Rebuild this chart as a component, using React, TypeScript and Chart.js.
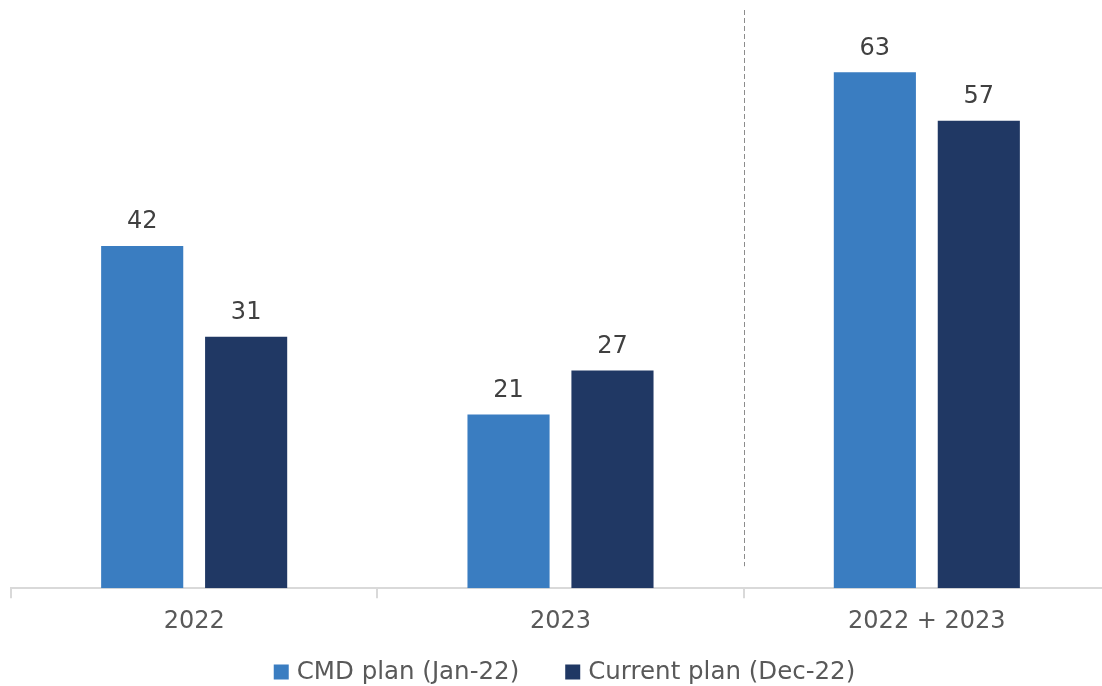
import React, { useEffect, useRef } from "react";
import { Chart, registerables } from "chart.js";

Chart.register(...registerables);

const categories = ["2022", "2023", "2022 + 2023"];
const cmdPlan = [41.8, 21.2, 63.0];
const currentPlan = [30.7, 26.6, 57.1];
const seriesNames = ["CMD plan (Jan-22)", "Current plan (Dec-22)"];
const seriesColors = ["#3A7DC1", "#203864"];
const FONT = "'DejaVu Sans', Verdana, sans-serif";

const valueLabels = {
  id: "valueLabels",
  afterDatasetsDraw(chart: any) {
    const ctx = chart.ctx;
    ctx.save();
    ctx.font = `24px ${FONT}`;
    ctx.fillStyle = "#404040";
    ctx.textAlign = "center";
    ctx.textBaseline = "middle";
    chart.data.datasets.forEach((ds: any, i: number) => {
      const meta = chart.getDatasetMeta(i);
      meta.data.forEach((bar: any, j: number) => {
        ctx.fillText(String(Math.round(ds.data[j])), bar.x, bar.y - 24);
      });
    });
    ctx.restore();
  },
};

const divider = {
  id: "divider",
  afterDraw(chart: any) {
    const { ctx, chartArea, scales } = chart;
    const x = (scales.x.getPixelForValue(1) + scales.x.getPixelForValue(2)) / 2;
    ctx.save();
    ctx.strokeStyle = "#8c8c8c";
    ctx.lineWidth = 1;
    ctx.setLineDash([5, 3]);
    ctx.beginPath();
    ctx.moveTo(Math.round(x) + 0.5, 10);
    ctx.lineTo(Math.round(x) + 0.5, chartArea.bottom - 22);
    ctx.stroke();
    ctx.restore();
  },
};

const customLegend = {
  id: "customLegend",
  afterDraw(chart: any) {
    const ctx = chart.ctx;
    ctx.save();
    ctx.font = `24.5px ${FONT}`;
    ctx.textBaseline = "middle";
    ctx.textAlign = "left";
    const box = 15;
    const textGap = 8;
    const itemGap = 46;
    const widths = chart.data.datasets.map((ds: any) => ctx.measureText(ds.label).width);
    const total = widths.reduce((s: number, w: number) => s + box + textGap + w, 0) + itemGap * (widths.length - 1);
    const cx = (chart.chartArea.left + chart.chartArea.right) / 2 + 4;
    const cy = 672;
    let x = cx - total / 2;
    chart.data.datasets.forEach((ds: any, i: number) => {
      ctx.fillStyle = seriesColors[i];
      ctx.fillRect(x, cy - box / 2, box, box);
      x += box + textGap;
      ctx.fillStyle = "#595959";
      ctx.fillText(ds.label, x, cy + 1);
      x += widths[i] + itemGap;
    });
    ctx.restore();
  },
};

export default function App() {
  const ref = useRef<HTMLCanvasElement>(null);
  useEffect(() => {
    const chart = new Chart(ref.current!, {
      type: "bar",
      data: {
        labels: categories,
        datasets: [
          { label: seriesNames[0], data: cmdPlan, backgroundColor: seriesColors[0] },
          { label: seriesNames[1], data: currentPlan, backgroundColor: seriesColors[1] },
        ],
      },
      options: {
        animation: false,
        responsive: false,
        maintainAspectRatio: false,
        categoryPercentage: 0.5675,
        barPercentage: 0.79,
        layout: { padding: { left: 11, right: 2, top: 15, bottom: 41 } },
        scales: {
          x: {
            grid: {
              drawOnChartArea: false,
              drawTicks: true,
              tickLength: 10,
              color: "#d9d9d9",
              lineWidth: 2,
            },
            border: { color: "#d9d9d9", width: 2 },
            ticks: { color: "#595959", font: { family: FONT, size: 24 }, padding: 9 },
          },
          y: { display: false, min: 0, max: 70 },
        },
        plugins: {
          legend: { display: false },
          tooltip: { enabled: false },
        },
      },
      plugins: [valueLabels, divider, customLegend],
    });
    return () => chart.destroy();
  }, []);
  return (
    <div style={{ position: "fixed", left: 0, top: 0, width: 1102, height: 686, overflow: "hidden", background: "#fff" }}>
      <canvas ref={ref} width={1112} height={686} style={{ display: "block", width: 1112, height: 686 }} />
    </div>
  );
}
